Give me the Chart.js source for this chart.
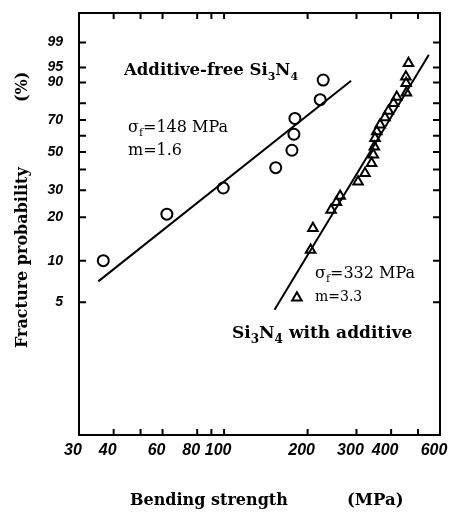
<!DOCTYPE html>
<html>
<head>
<meta charset="utf-8">
<script src="https://cdn.jsdelivr.net/npm/chart.js@4.4.1/dist/chart.umd.min.js"></script>
<style>
  html, body { margin: 0; padding: 0; background: #fff; }
  #wrap { width: 455px; height: 513px; }
</style>
</head>
<body>
<div id="wrap"><canvas id="weibull"></canvas></div>
<script>
// bending strength (MPa) vs cumulative fracture probability (%)
const freeStrength = [36.7, 62.2, 99.3, 153.5, 175.6, 178.5, 180, 222, 227.6];
const freeProb = [10, 21, 31, 41, 51, 61, 71, 82, 91];

const addStrength = [183, 205, 209, 243, 254, 262, 304, 322, 340, 345, 348, 350, 355, 365, 380, 391, 408, 419, 454, 453, 452, 462];
const addProb = [5.4, 11.9, 16.9, 22.4, 25.2, 27.6, 33.9, 38.1, 43.4, 48.3, 53.2, 58.4, 62.7, 67, 71.6, 75.6, 80, 83.4, 85.5, 89.7, 92.2, 96];

// end points of the fitted Weibull lines
const freeFitStrength = [35.2, 287];
const freeFitProb = [7.1, 90.7];
const addFitStrength = [152, 547];
const addFitProb = [4.4, 97.6];

const xTickValues = [30, 40, 50, 60, 80, 90, 100, 200, 300, 400, 500, 600];
const xTickLabels = [30, 40, 60, 80, 100, 200, 300, 400, 600];
const yTickValues = [5, 10, 20, 30, 40, 50, 60, 70, 80, 90, 95, 99];
const yTickLabels = [5, 10, 20, 30, 50, 70, 90, 95, 99];

// Weibull probability paper: ln(ln(1/(1-F)))
const weibull = p => Math.log(-Math.log(1 - p / 100));

const toPoints = (xs, ps) => xs.map((v, i) => ({x: v, y: weibull(ps[i])}));

const SERIF = '"DejaVu Serif", "Liberation Serif", serif';
const SANS = '"Liberation Sans", Arial, sans-serif';

function drawParts(ctx, parts, x, y, size, weight) {
    parts.forEach(([text, sub]) => {
        const fs = sub ? Math.round(size * 0.68) : size;
        ctx.font = `${weight} ${fs}px ${SERIF}`;
        ctx.fillText(text, x, sub ? y + size * 0.28 : y);
        x += ctx.measureText(text).width;
    });
}

const frameAndText = {
    id: 'frameAndText',
    afterDraw(chart) {
        const {ctx, chartArea: a, scales: {x, y}} = chart;
        ctx.save();
        ctx.strokeStyle = '#000';
        ctx.fillStyle = '#000';
        ctx.lineWidth = 2;
        ctx.strokeRect(a.left, a.top, a.right - a.left, a.bottom - a.top);

        // inward tick marks on all four sides
        ctx.beginPath();
        xTickValues.forEach(v => {
            const px = x.getPixelForValue(v);
            ctx.moveTo(px, a.top);
            ctx.lineTo(px, a.top + 6);
            ctx.moveTo(px, a.bottom);
            ctx.lineTo(px, a.bottom - 6);
        });
        yTickValues.forEach(p => {
            const py = y.getPixelForValue(weibull(p));
            ctx.moveTo(a.left, py);
            ctx.lineTo(a.left + 7, py);
            ctx.moveTo(a.right, py);
            ctx.lineTo(a.right - 7, py);
        });
        ctx.stroke();

        ctx.textAlign = 'left';
        ctx.textBaseline = 'alphabetic';
        drawParts(ctx, [['Additive-free Si'], ['3', 1], ['N'], ['4', 1]], 124, 75, 16.5, 'bold');
        drawParts(ctx, [['σ'], ['f', 1], ['=148 MPa']], 128, 132, 16, 'normal');
        drawParts(ctx, [['m=1.6']], 128, 155, 16, 'normal');
        drawParts(ctx, [['σ'], ['f', 1], ['=332 MPa']], 315, 278, 16, 'normal');
        drawParts(ctx, [['m=3.3']], 315, 301, 14, 'normal');
        drawParts(ctx, [['Si'], ['3', 1], ['N'], ['4', 1], [' with additive']], 232, 338, 17, 'bold');

        // axis titles
        drawParts(ctx, [['Bending strength']], 130, 505, 16, 'bold');
        drawParts(ctx, [['(MPa)']], 347, 505, 16.5, 'bold');

        ctx.translate(27, 348);
        ctx.rotate(-Math.PI / 2);
        drawParts(ctx, [['Fracture probability']], 0, 0, 16, 'bold');
        drawParts(ctx, [['(%)']], 246, 0, 16, 'bold');
        ctx.restore();
    }
};

const markStyle = {
    borderColor: '#000',
    backgroundColor: 'rgba(0,0,0,0)',
    borderWidth: 2
};

// keep the plot box fixed: no extra room for overhanging tick labels
const noEdgePadding = s => {
    s.paddingTop = 0;
    s.paddingBottom = 0;
    s.paddingLeft = 0;
    s.paddingRight = 0;
};

new Chart(document.getElementById('weibull'), {
    type: 'scatter',
    data: {
        datasets: [
            {data: toPoints(freeStrength, freeProb), pointStyle: 'circle', pointRadius: 5.5, ...markStyle},
            {data: toPoints(addStrength, addProb), pointStyle: 'triangle', pointRadius: 5.5, ...markStyle},
            {data: toPoints(freeFitStrength, freeFitProb), showLine: true, pointRadius: 0, borderColor: '#000', borderWidth: 2},
            {data: toPoints(addFitStrength, addFitProb), showLine: true, pointRadius: 0, borderColor: '#000', borderWidth: 2}
        ]
    },
    options: {
        responsive: true,
        maintainAspectRatio: false,
        animation: false,
        layout: {padding: {top: 13, right: 15, left: 0, bottom: 0}},
        plugins: {legend: {display: false}, tooltip: {enabled: false}},
        scales: {
            x: {
                type: 'logarithmic',
                min: 30,
                max: 600,
                afterBuildTicks: s => { s.ticks = xTickValues.map(v => ({value: v})); },
                afterFit: s => { s.height = 78; noEdgePadding(s); },
                grid: {display: false},
                border: {display: false},
                ticks: {
                    autoSkip: false,
                    maxRotation: 0,
                    labelOffset: -6,
                    padding: -2,
                    color: '#000',
                    font: {family: SANS, size: 16, style: 'italic', weight: 'bold'},
                    callback: v => xTickLabels.includes(v) ? String(v) : ''
                }
            },
            y: {
                type: 'linear',
                min: -5.27,
                max: 2.04,
                afterBuildTicks: s => { s.ticks = yTickValues.map(p => ({value: weibull(p)})); },
                afterFit: s => { s.width = 79; noEdgePadding(s); },
                grid: {display: false},
                border: {display: false},
                ticks: {
                    autoSkip: false,
                    padding: 8,
                    color: '#000',
                    font: {family: SANS, size: 14, style: 'italic', weight: 'bold'},
                    callback: (v, i) => yTickLabels.includes(yTickValues[i]) ? String(yTickValues[i]) : ''
                }
            }
        }
    },
    plugins: [frameAndText]
});
</script>
</body>
</html>
